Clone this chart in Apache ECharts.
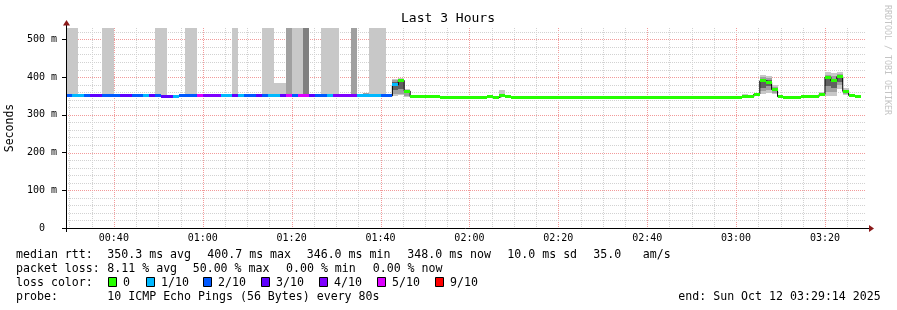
<!DOCTYPE html>
<html><head><meta charset="utf-8">
<script src="https://cdn.jsdelivr.net/npm/echarts@6/dist/echarts.min.js"></script>
<style>html,body{margin:0;padding:0;background:#fff}#c{width:897px;height:310px}</style>
</head><body><div id="c"></div>
<script>
const FONT = '"DejaVu Sans Mono", monospace';
const chartTitle = 'Last 3 Hours';
const yAxisName = 'Seconds';
const watermark = 'RRDTOOL / TOBI OETIKER';
const viewStart = '00:29:14';
const viewEnd = '03:29:14';
const firstStep = '00:29:20';
const stepSeconds = 80;
const xTickLabels = ['00:40','01:00','01:20','01:40','02:00','02:20','02:40','03:00','03:20'];
const yTickValues = [0,100,200,300,400,500];
const yMax = 530;
const lossLevels = [0,1,2,3,4,5,9];
const lossLabels = ['0','1/10','2/10','3/10','4/10','5/10','9/10'];
const lossColors = ['#26ff00','#00b8ff','#0059ff','#5e00ff','#7e00ff','#dd00ff','#ff0000'];
// median rtt runs: [first step, last step, median ms, lost pings of 10]
const medianRuns = [
  [0,0,350,2],[1,2,350,1],[3,3,350,2],[4,5,350,3],[6,8,350,2],[9,10,350,3],
  [11,12,350,2],[13,13,350,1],[14,14,350,3],[15,15,350,2],[16,17,348,3],[18,18,349,1],
  [19,21,350,2],[22,22,350,5],[23,25,350,4],[26,27,350,1],[28,28,350,3],[29,29,350,1],
  [30,31,350,2],[32,32,350,3],[33,33,350,2],[34,35,350,1],[36,36,350,3],[37,37,350,5],
  [38,38,350,2],[39,40,350,5],[41,41,350,3],[42,43,350,2],[44,44,350,1],[45,48,350,4],
  [49,52,350,1],[53,54,350,2],[55,55,379,1],[56,56,391,0],[57,57,363,0],[58,62,348,0],
  [63,70,346,0],[71,71,348,0],[72,72,346,0],[73,73,351,0],[74,74,348,0],[75,104,347,0],
  [105,113,346,0],[114,115,348,0],[116,116,355,0],[117,117,390,0],[118,118,386,0],
  [119,119,367,0],[120,120,348,0],[121,123,346,0],[124,126,348,0],[127,127,354,0],
  [128,128,400,0],[129,129,390,0],[130,130,401,0],[131,131,362,0],[132,132,351,0],[133,133,348,0]
];
// smoke runs: [first step, last step, low ms, high ms, shade]
const smokeShades = ['#c8c8c8','#a0a0a0','#808080','#606060'];
const smokeRuns = [
  [0,1,347,530,0],[6,7,347,530,0],[15,16,347,530,0],[20,21,347,530,0],[28,28,347,530,0],
  [33,34,347,530,0],[35,36,347,384,0],[37,37,347,530,1],[38,39,347,530,0],[40,40,347,530,2],
  [43,45,347,530,0],[48,48,347,530,1],[50,50,347,358,1],[51,53,347,530,0],[54,54,347,353,1],
  [55,55,350,396,0],[55,55,355,391,1],[55,55,366,387,3],
  [56,56,352,398,0],[56,56,356,394,1],[56,56,368,392,3],
  [57,57,346,369,0],[57,57,351,365,1],
  [73,73,347,366,0],[74,74,347,353,0],[114,114,346,356,0],[116,116,350,359,0],
  [117,117,355,406,0],[117,117,362,399,1],[117,117,372,394,3],
  [118,118,358,404,0],[118,118,366,398,1],[118,118,375,392,3],
  [119,119,355,378,0],[119,119,359,373,1],
  [127,127,349,360,0],
  [128,128,350,413,0],[128,128,360,406,1],[128,128,375,401,3],
  [129,129,351,412,0],[129,129,360,404,1],[129,129,372,396,3],
  [130,130,369,413,0],[130,130,378,409,1],[130,130,388,405,3],
  [131,131,352,371,0],[131,131,356,366,1]
];
const rttLabel = 'median rtt:';
const rttStats = ['350.3 ms avg','400.7 ms max','346.0 ms min','348.0 ms now','10.0 ms sd','35.0','am/s'];
const lossLabel = 'packet loss:';
const lossStats = ['8.11 % avg','50.00 % max','0.00 % min','0.00 % now'];
const lossColorLabel = 'loss color:';
const probeLabel = 'probe:';
const probeText = '10 ICMP Echo Pings (56 Bytes) every 80s';
const endText = 'end: Sun Oct 12 03:29:14 2025';

function toMin(s){const p=s.split(':').map(Number);return p[0]*60+p[1]+(p[2]||0)/60;}
const xMin = toMin(viewStart), xMax = toMin(viewEnd);
const t0 = toMin(firstStep), stepMin = stepSeconds/60;
const stepT = k => t0 + k*stepMin;
const colorOf = lost => lossColors[lossLevels.indexOf(lost)];

// gridlines
const gridData = [];
for (let m = Math.ceil(xMin/5)*5; m <= xMax; m += 5) gridData.push([m, 0, m%20===0 ? 1 : 0]);
for (let v = 20; v < yMax; v += 20) gridData.push([v, 1, v%100===0 ? 1 : 0]);

const smokeData = smokeRuns.map(r => ({value:[stepT(r[0]), stepT(r[1]+1), r[2], r[3]], itemStyle:{color: smokeShades[r[4]]}}));
const medData = medianRuns.map(r => ({value:[stepT(r[0]), stepT(r[1]+1), r[2]], itemStyle:{color: colorOf(r[3])}}));
const stepLine = [];
medianRuns.forEach(r => { for (let k=r[0]; k<=r[1]; k++) stepLine.push([stepT(k), r[2]]); });
stepLine.push([stepT(medianRuns[medianRuns.length-1][1]+1), medianRuns[medianRuns.length-1][2]]);

function clipRect(params, x, y, w, h){
  const cs = params.coordSys;
  return echarts.graphic.clipRectByRect({x, y, width:w, height:h}, {x:cs.x, y:cs.y, width:cs.width, height:cs.height});
}

const chart = echarts.init(document.getElementById('c'), null, {renderer:'canvas'});
const G = {left:66, top:28, width:800, height:200, containLabel:false, outerBoundsMode:'none'};

const graphics = [];
const txt = (x, y, s, extra) => graphics.push(Object.assign({type:'text', x, y, style:Object.assign({text:s, font:'11.6px '+FONT, fill:'#000', textVerticalAlign:'middle'}, extra||{}), silent:true}));
txt(448, 19, chartTitle, {font:'13px '+FONT, textAlign:'center'});
graphics.push({type:'text', x:887, y:5, rotation:-Math.PI/2, style:{text:watermark, font:'8.3px '+FONT, fill:'#c4c4c4', textAlign:'left', textVerticalAlign:'middle'}, silent:true});
// rows
txt(16, 254.5, rttLabel);
[107.3,207.3,306.7,407.3,507.3,593.3,642.7].forEach((x,i)=>txt(x,254.5,rttStats[i]));
txt(16, 268.5, lossLabel);
[107.3,192.7,286,372.7].forEach((x,i)=>txt(x,268.5,lossStats[i]));
txt(16, 282.5, lossColorLabel);
const boxX = [108,146,203,261,319,377,435];
lossLabels.forEach((l,i)=>{
  graphics.push({type:'rect', shape:{x:boxX[i]+0.5, y:277.5, width:8, height:9}, style:{fill:lossColors[i], stroke:'#000', lineWidth:1}, silent:true});
  txt(boxX[i]+15, 282.5, l);
});
txt(16, 296.5, probeLabel);
txt(107.3, 296.5, probeText);
txt(678.3, 296.5, endText);
// axis extensions and arrows
graphics.push({type:'line', shape:{x1:62, y1:228.5, x2:869, y2:228.5}, style:{stroke:'#000', lineWidth:1}, silent:true, z:10});
graphics.push({type:'line', shape:{x1:66.5, y1:232, x2:66.5, y2:25}, style:{stroke:'#000', lineWidth:1}, silent:true, z:10});
graphics.push({type:'polygon', shape:{points:[[874,228.5],[869,225],[869,232]]}, style:{fill:'#8b1a1a'}, silent:true, z:10});
graphics.push({type:'polygon', shape:{points:[[66.5,20],[63,25.5],[70,25.5]]}, style:{fill:'#8b1a1a'}, silent:true, z:10});

chart.setOption({
  animation:false,
  backgroundColor:'#fff',
  grid:G,
  xAxis:{type:'value', min:xMin, max:xMax, splitNumber:9,
    axisLine:{show:false}, axisTick:{show:false}, splitLine:{show:false},
    axisLabel:{customValues:xTickLabels.map(toMin), hideOverlap:false,
      formatter:v=>{const h=Math.floor(v/60), m=Math.round(v-h*60);return String(h).padStart(2,'0')+':'+String(m).padStart(2,'0');},
      fontFamily:FONT, fontSize:10, color:'#000', margin:5}},
  yAxis:{type:'value', min:0, max:yMax, interval:100,
    name:yAxisName, nameLocation:'middle', nameGap:43, nameRotate:90,
    nameTextStyle:{fontFamily:FONT, fontSize:11.5, color:'#000'},
    axisLine:{show:false}, splitLine:{show:false},
    axisTick:{show:true, length:4, customValues:yTickValues, lineStyle:{color:'#000'}},
    axisLabel:{customValues:yTickValues, formatter:v=> v%100 ? '' : (v===0 ? '0  ' : v+' m'), fontFamily:FONT, fontSize:10, color:'#000', margin:9}},
  graphic:graphics,
  series:[
    {type:'custom', z:1, silent:true, data:gridData, renderItem:(params, api)=>{
      const v=api.value(0), dir=api.value(1), major=api.value(2), cs=params.coordSys;
      const stroke = major ? '#f29a9a' : '#d2d2d2';
      if (dir===0){const x=Math.round(api.coord([v,0])[0])+0.5;
        return {type:'line', shape:{x1:x,y1:cs.y,x2:x,y2:cs.y+cs.height}, style:{stroke, lineWidth:1, lineDash:[1,1]}};}
      const y=Math.round(api.coord([xMin,v])[1])+0.5;
      return {type:'line', shape:{x1:cs.x,y1:y,x2:cs.x+cs.width,y2:y}, style:{stroke, lineWidth:1, lineDash:[1,1]}};
    }},
    {type:'custom', z:2, silent:true, data:smokeData, renderItem:(params, api)=>{
      const a=api.coord([api.value(0), api.value(3)]), b=api.coord([api.value(1), api.value(2)]);
      const x=Math.round(a[0]), x2=Math.round(b[0]), y=Math.round(a[1]), y2=Math.round(b[1]);
      const shape=clipRect(params, x, y, x2-x, y2-y);
      return shape ? {type:'rect', shape, style:{fill:api.visual('color')}} : null;
    }},
    {type:'line', z:3, silent:true, data:stepLine, step:'end', symbol:'none', lineStyle:{color:'#000', width:1}},
    {type:'custom', z:4, silent:true, data:medData, renderItem:(params, api)=>{
      const a=api.coord([api.value(0), api.value(2)]), b=api.coord([api.value(1), api.value(2)]);
      const x=Math.round(a[0]), x2=Math.round(b[0]), y=Math.round(a[1]-1.5);
      const shape=clipRect(params, x, y, x2-x, 3);
      return shape ? {type:'rect', shape, style:{fill:api.visual('color')}} : null;
    }}
  ]
});
</script></body></html>
